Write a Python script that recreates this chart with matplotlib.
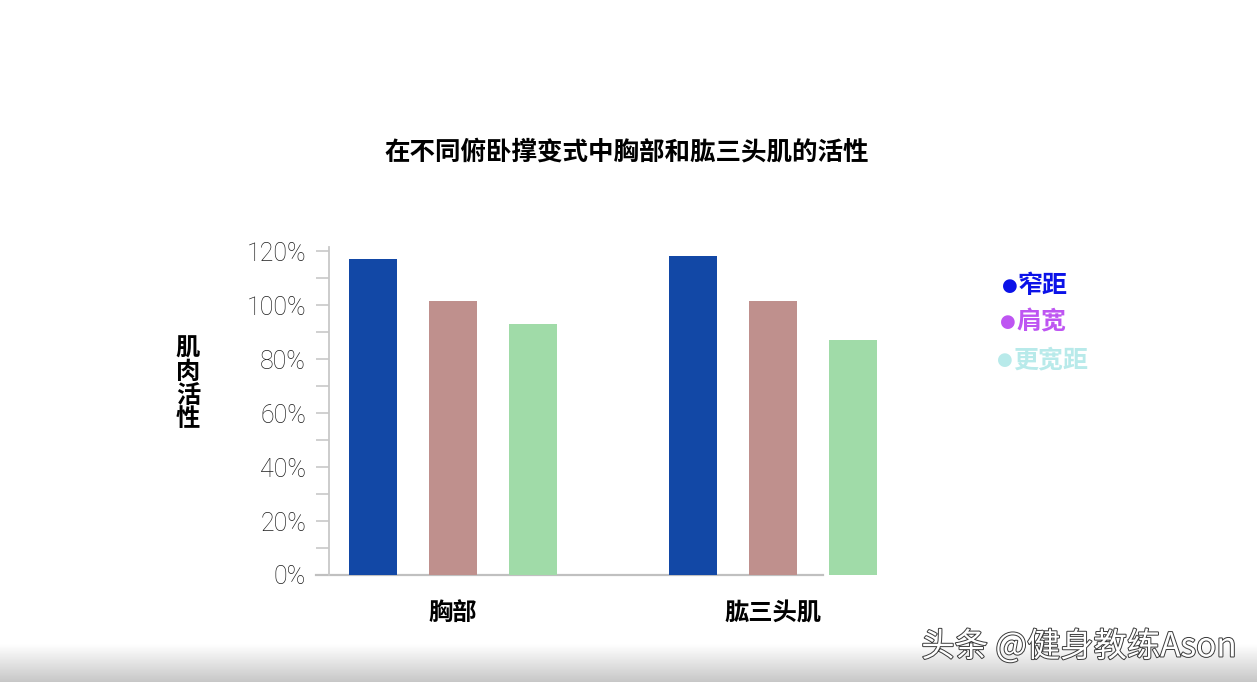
import numpy as np
import matplotlib
matplotlib.use("Agg")
import matplotlib.pyplot as plt
import matplotlib.patheffects as pe
from matplotlib.ticker import MultipleLocator, FuncFormatter

plt.rcParams['font.family'] = ['Noto Sans CJK SC', 'DejaVu Sans']

# data
groups = ['胸部', '肱三头肌']
variants = ['窄距', '肩宽', '更宽距']
narrow = [117, 118]
shoulder = [101.5, 101.5]
wider = [93, 87]
bar_colors = ['#1248A6', '#BF908D', '#A0DBA8']
legend_colors = ['#0B12E8', '#BE55F2', '#B8EAEA']
y_ticks = [0, 20, 40, 60, 80, 100, 120]

W, H = 1257, 682
fig = plt.figure(figsize=(W / 100, H / 100), dpi=100)
fig.patch.set_facecolor('white')

# grey fade at the bottom edge
grad_ax = fig.add_axes([0, 0, 1, 38 / H], zorder=0)
grad = np.linspace(0.78, 1.0, 64).reshape(-1, 1)
grad_ax.imshow(grad, aspect='auto', cmap='gray', vmin=0, vmax=1,
               extent=[0, 1, 0, 1], origin='lower')
grad_ax.axis('off')

# main axes: y-axis at x=329px, baseline at y=575px
left_px, right_px, bot_px, top_px = 329, 900, 575, 247
ax = fig.add_axes([left_px / W, (H - bot_px) / H,
                   (right_px - left_px) / W, (bot_px - top_px) / H], zorder=2)
ax.patch.set_alpha(0)

px_per_unit = 319.5
x = np.arange(len(groups))
offset = 80 / px_per_unit
width = 48 / px_per_unit
for i, (vals, col) in enumerate(zip([narrow, shoulder, wider], bar_colors)):
    ax.bar(x + (i - 1) * offset, vals, width=width, color=col, zorder=3)

ax.set_xlim(-(453 - left_px) / px_per_unit, 1 + (right_px - 772.5) / px_per_unit)
ax.set_ylim(0, 121.5)

for s in ['top', 'right', 'bottom']:
    ax.spines[s].set_visible(False)
ax.spines['left'].set_color('#c8c8c8')
ax.spines['left'].set_linewidth(1.3)

# baseline runs from the tick ends to just past the pink triceps bar
ax.plot([-(453 - 316) / px_per_unit, 1 + (823 - 772.5) / px_per_unit], [0, 0],
        color='#c0c0c0', lw=1.6, clip_on=False, zorder=2)

ax.yaxis.set_major_locator(MultipleLocator(20))
ax.yaxis.set_minor_locator(MultipleLocator(10))
ax.yaxis.set_major_formatter(FuncFormatter(lambda v, p: f'{int(v)}%'))
ax.set_yticks(y_ticks)
ax.tick_params(axis='y', which='both', length=9.5, width=1.1, color='#c4c4c4',
               pad=7, labelsize=18, labelcolor='#1e1e1e')
for lab in ax.get_yticklabels():
    lab.set_family(['Roboto', 'DejaVu Sans'])
    lab.set_fontweight('light')

ax.set_xticks(x)
ax.set_xticklabels(groups, fontsize=17.5, fontweight='bold')
ax.tick_params(axis='x', length=0, pad=19)

# title and y label
fig.text(627 / W, 1 - 152 / H, '在不同俯卧撑变式中胸部和肱三头肌的活性',
         ha='center', va='center', fontsize=18.4, fontweight='bold')
fig.text(188 / W, 1 - 384 / H, '\n'.join('肌肉活性'), ha='center', va='center',
         fontsize=17.5, fontweight='bold', linespacing=0.98)

# legend drawn as coloured text
leg_y = [286, 322, 360]
leg_x = [1010, 1008, 1005]
for name, col, yy, xx in zip(variants, legend_colors, leg_y, leg_x):
    fig.text(xx / W, 1 - yy / H, '●', ha='center', va='center',
             fontsize=13, color=col, family=['DejaVu Sans'])
    fig.text((xx + 8) / W, 1 - yy / H, name, ha='left', va='center',
             fontsize=18, fontweight='bold', color=col)

# watermark
fig.text(1237 / W, 1 - 647 / H, '头条 @健身教练Ason', ha='right', va='center',
         fontsize=24, color='white', zorder=5,
         path_effects=[pe.withStroke(linewidth=1.4, foreground='#3a3a3a')])

fig.savefig('out.png', dpi=100)
